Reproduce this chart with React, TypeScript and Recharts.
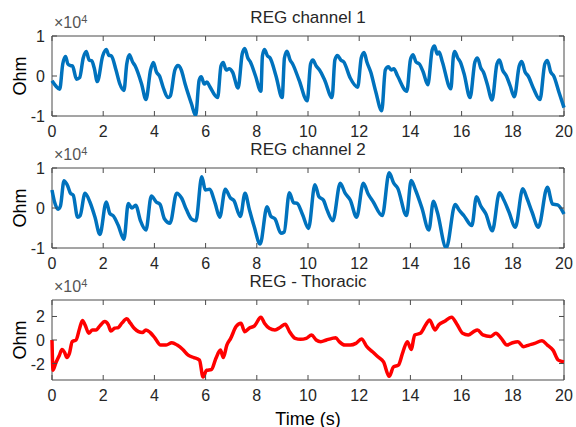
import React from 'react';
import { LineChart, Line, XAxis, YAxis, ReferenceArea } from 'recharts';

// values are in units of 10^4 Ohm
const ch1Time = [
  0.0, 0.15, 0.3, 0.42, 0.53, 0.62, 0.72, 0.8, 0.96, 1.08, 1.22, 1.34, 1.45, 1.55, 1.65, 1.77,
  1.98, 2.12, 2.22, 2.32, 2.5, 2.65, 2.81, 2.92, 3.02, 3.15, 3.25, 3.5, 3.67, 3.85, 3.96, 4.08,
  4.2, 4.35, 4.53, 4.62, 4.8, 4.92, 5.05, 5.2, 5.45, 5.61, 5.75, 5.83, 5.95, 6.05, 6.15, 6.47,
  6.6, 6.69, 6.8, 6.92, 7.05, 7.27, 7.43, 7.53, 7.65, 7.75, 7.95, 8.16, 8.22, 8.3, 8.42, 8.52,
  8.75, 8.99, 9.08, 9.18, 9.3, 9.4, 9.65, 9.97, 10.1, 10.19, 10.32, 10.45, 10.65, 10.94, 11.05,
  11.15, 11.28, 11.4, 11.65, 11.94, 12.08, 12.19, 12.3, 12.45, 12.65, 12.88, 13.02, 13.14, 13.25,
  13.35, 13.5, 13.86, 14.0, 14.1, 14.22, 14.35, 14.5, 14.68, 14.85, 14.94, 15.05, 15.12, 15.25,
  15.58, 15.68, 15.73, 15.85, 15.95, 16.1, 16.33, 16.52, 16.62, 16.75, 16.85, 17.0, 17.19, 17.38,
  17.48, 17.6, 17.75, 17.9, 18.06, 18.25, 18.35, 18.48, 18.6, 18.8, 19.06, 19.25, 19.35, 19.48,
  19.6, 19.8, 20.0,
];
const ch1Value = [
  -0.12, -0.25, -0.33, 0.3, 0.49, 0.3, 0.26, 0.25, -0.08, -0.04, 0.45, 0.61, 0.4, 0.38, 0.2, -0.14,
  0.5, 0.66, 0.52, 0.5, 0.15, -0.2, -0.36, 0.3, 0.53, 0.35, 0.25, -0.2, -0.59, 0.15, 0.34, 0.1,
  0.0, -0.3, -0.54, -0.5, 0.15, 0.26, 0.15, -0.2, -0.7, -0.99, -0.1, -0.02, -0.2, -0.15, -0.25, -0.54,
  0.25, 0.34, 0.15, 0.18, 0.1, -0.3, 0.55, 0.69, 0.45, 0.35, 0.0, -0.38, 0.5, 0.66, 0.5, 0.45,
  0.0, -0.54, 0.45, 0.62, 0.4, 0.3, -0.1, -0.62, 0.3, 0.4, 0.25, 0.15, -0.1, -0.54, 0.4,
  0.51, 0.4, 0.35, -0.05, -0.28, 0.45, 0.59, 0.35, 0.1, -0.4, -0.87, 0.15, 0.23, 0.15,
  0.18, 0.0, -0.38, 0.4, 0.53, 0.35, 0.3, 0.1, -0.22, 0.65, 0.75, 0.55, 0.6, 0.35,
  -0.32, 0.5, 0.61, 0.45, 0.35, 0.05, -0.54, 0.35, 0.45, 0.2, 0.1, -0.2, -0.6, 0.3,
  0.4, 0.15, 0.0, -0.25, -0.52, 0.25, 0.36, 0.1, 0.0, -0.3, -0.59, 0.3, 0.39, 0.1,
  0.0, -0.4, -0.79,
];

const ch2Time = [
  0.0, 0.1, 0.24, 0.33, 0.47, 0.62, 0.72, 0.83, 1.0, 1.1, 1.29, 1.48, 1.68, 1.87, 2.12, 2.26,
  2.4, 2.59, 2.81, 2.98, 3.12, 3.27, 3.45, 3.67, 3.88, 4.07, 4.22, 4.39, 4.61, 4.87, 5.06, 5.25,
  5.45, 5.62, 5.85, 5.99, 6.15, 6.37, 6.55, 6.77, 6.97, 7.1, 7.36, 7.54, 7.71, 7.9, 8.13, 8.4,
  8.55, 8.71, 8.94, 9.07, 9.27, 9.44, 9.57, 9.79, 10.02, 10.27, 10.43, 10.6, 10.74, 10.97, 11.26,
  11.45, 11.65, 11.9, 12.16, 12.35, 12.55, 12.9, 13.17, 13.35, 13.5, 13.85, 14.03, 14.2, 14.45,
  14.72, 14.9, 15.05, 15.4, 15.75, 15.9, 16.1, 16.4, 16.58, 16.75, 16.95, 17.2, 17.48, 17.65,
  17.85, 18.1, 18.39, 18.55, 18.75, 19.0, 19.35, 19.55, 19.75, 20.0,
];
const ch2Value = [
  0.45, 0.15, -0.03, 0.05, 0.68, 0.54, 0.37, 0.32, -0.23, -0.19, 0.37, 0.15, -0.23, -0.66, 0.15, -0.14,
  -0.2, -0.44, -0.78, 0.11, 0.0, 0.07, -0.31, -0.55, 0.3, 0.15, 0.09, -0.27, -0.38, 0.37, 0.25, -0.04,
  -0.28, -0.32, 0.78, 0.45, 0.47, 0.12, -0.23, 0.47, 0.25, 0.19, -0.21, 0.37, -0.04, -0.47, -0.9, 0.03,
  -0.21, -0.27, -0.63, -0.6, 0.38, 0.13, 0.12, -0.17, -0.51, 0.58, 0.28, 0.2, -0.04, -0.32, 0.62,
  0.37, 0.2, -0.23, 0.62, 0.35, 0.15, -0.19, 0.88, 0.62, 0.5, -0.19, 0.69, 0.45, 0.0,
  -0.55, 0.17, -0.1, -1.0, 0.09, -0.05, -0.2, -0.44, 0.28, 0.05, -0.15, -0.57, 0.38, 0.2,
  -0.1, -0.48, 0.48, 0.25, -0.1, -0.48, 0.52, 0.1, 0.08, -0.15,
];

const ch3Time = [
  0.0, 0.04, 0.14, 0.29, 0.39, 0.5, 0.58, 0.68, 0.79, 0.94, 1.08, 1.19, 1.29, 1.44, 1.58, 1.73,
  1.87, 2.06, 2.2, 2.3, 2.45, 2.59, 2.73, 2.92, 3.06, 3.21, 3.38, 3.53, 3.67, 3.84, 4.03, 4.24,
  4.46, 4.68, 4.89, 5.11, 5.32, 5.54, 5.76, 5.9, 6.04, 6.23, 6.4, 6.58, 6.69, 6.83, 6.98, 7.19,
  7.38, 7.53, 7.7, 7.91, 8.16, 8.3, 8.49, 8.71, 8.92, 9.11, 9.28, 9.5, 9.71, 9.93, 10.14, 10.32,
  10.5, 10.72, 10.94, 11.08, 11.22, 11.44, 11.65, 11.87, 12.09, 12.3, 12.52, 12.73, 12.95, 13.17,
  13.34, 13.53, 13.71, 13.88, 14.03, 14.17, 14.39, 14.6, 14.75, 14.96, 15.11, 15.32, 15.61, 15.83,
  16.04, 16.26, 16.47, 16.62, 16.83, 17.12, 17.34, 17.55, 17.77, 17.99, 18.2, 18.42, 18.63, 18.85,
  19.14, 19.35, 19.57, 19.78, 20.0,
];
const ch3Value = [
  0.0, -2.57, -2.0, -1.29, -0.8, -1.09, -1.49, -1.14, -0.14, 0.0, 1.0, 1.66, 1.29, 0.57, 0.86, 0.86,
  1.2, 1.57, 1.29, 0.77, 1.0, 1.06, 1.43, 1.8, 1.43, 1.0, 0.71, 0.63, 0.86, 0.63, 0.14, -0.43,
  -0.43, -0.23, -0.43, -0.8, -1.29, -1.49, -1.71, -3.14, -2.57, -2.51, -1.57, -0.86, -1.49, -0.43, 0.14, 1.14,
  1.43, 0.71, 1.0, 1.2, 1.94, 1.43, 1.0, 0.86, 1.09, 1.34, 0.71, 0.14, 0.06, 0.14, 0.43, 0.0,
  -0.14, 0.0, 0.14, 0.2, -0.14, -0.43, -0.43, -0.29, 0.09, -0.57, -1.0, -1.43, -1.86, -3.09,
  -2.29, -2.14, -1.0, -0.14, -0.8, 0.43, 0.57, 1.29, 1.71, 0.86, 1.29, 1.57, 1.94, 1.29,
  0.57, 0.43, 0.71, 0.86, 0.43, 0.29, 0.57, 0.14, -0.43, -0.23, -0.14, -0.57, -0.43, -0.29,
  -0.06, -0.43, -0.86, -1.71, -1.86,
];

const xTicks = [0, 2, 4, 6, 8, 10, 12, 14, 16, 18, 20];
const regTicks = [-1, 0, 1];
const thorTicks = [-2, 0, 2];

const toRows = (t: number[], v: number[]) => t.map((time, i) => ({ t: time, v: v[i] }));

const FONT = '"Liberation Sans", Arial, Helvetica, sans-serif';
const TEXT = '#262626';
const BOX = '#4a4a4a';

const W = 576;
const H = 144;
const TOP = 36;
const LEFT = 52;
const RIGHT = 564;
const BOTTOM = 116;

const XTick = (props: any) => {
  const { x, payload } = props;
  return (
    <g>
      <line x1={x} x2={x} y1={BOTTOM} y2={BOTTOM - 5} stroke={BOX} />
      <line x1={x} x2={x} y1={TOP} y2={TOP + 5} stroke={BOX} />
      <text x={x} y={BOTTOM + 21} textAnchor="middle" fontSize={16} fontFamily={FONT} fill={TEXT}>
        {payload.value}
      </text>
    </g>
  );
};

const YTick = (props: any) => {
  const { y, payload } = props;
  return (
    <g>
      <line x1={LEFT} x2={LEFT + 5} y1={y} y2={y} stroke={BOX} />
      <line x1={RIGHT} x2={RIGHT - 5} y1={y} y2={y} stroke={BOX} />
      <text x={45} y={y + 6} textAnchor="end" fontSize={16} fontFamily={FONT} fill={TEXT}>
        {payload.value < 0 ? '-' + Math.abs(payload.value) : payload.value}
      </text>
    </g>
  );
};

interface PanelProps {
  top: number;
  title: string;
  rows: { t: number; v: number }[];
  domain: [number, number];
  ticks: number[];
  color: string;
}

function Panel({ top, title, rows, domain, ticks, color }: PanelProps) {
  const mid = top + (TOP + BOTTOM) / 2;
  return (
    <>
      <div style={{ position: 'absolute', left: 0, top, width: W, height: H }}>
        <LineChart width={W} height={H} data={rows} margin={{ top: TOP, right: W - RIGHT, left: 0, bottom: 0 }}>
          <XAxis
            dataKey="t"
            type="number"
            domain={[0, 20]}
            ticks={xTicks}
            height={H - BOTTOM}
            axisLine={false}
            tickLine={false}
            tick={XTick}
            interval={0}
          />
          <YAxis
            type="number"
            domain={domain}
            ticks={ticks}
            width={LEFT}
            axisLine={false}
            tickLine={false}
            tick={YTick}
            interval={0}
            allowDataOverflow
          />
          <ReferenceArea x1={0} x2={20} y1={domain[0]} y2={domain[1]} fill="none" stroke={BOX} strokeWidth={1} />
          <Line
            type="monotone"
            dataKey="v"
            stroke={color}
            strokeWidth={3.5}
            dot={false}
            isAnimationActive={false}
          />
        </LineChart>
      </div>
      <div
        style={{
          position: 'absolute', left: (LEFT + RIGHT) / 2, top: top + TOP - 18, transform: 'translate(-50%, -50%)',
          fontFamily: FONT, fontSize: 17, color: TEXT, whiteSpace: 'nowrap',
        }}
      >
        {title}
      </div>
      <div
        style={{
          position: 'absolute', left: LEFT + 2, top: top + TOP - 22, fontFamily: FONT, fontSize: 16,
          color: '#555', whiteSpace: 'nowrap', lineHeight: '18px',
        }}
      >
        ×10<sup style={{ fontSize: 11, verticalAlign: 'top', position: 'relative', top: -4 }}>4</sup>
      </div>
      <div
        style={{
          position: 'absolute', left: 20, top: mid, transform: 'translate(-50%, -50%) rotate(-90deg)',
          fontFamily: FONT, fontSize: 18, color: '#000', whiteSpace: 'nowrap',
        }}
      >
        Ohm
      </div>
    </>
  );
}

export default function App() {
  return (
    <div style={{ position: 'absolute', left: 0, top: 0, width: W, height: 427, background: '#fff' }}>
      <Panel top={0} title="REG channel 1" rows={toRows(ch1Time, ch1Value)} domain={[-1, 1]} ticks={regTicks} color="#0072BD" />
      <Panel top={132} title="REG channel 2" rows={toRows(ch2Time, ch2Value)} domain={[-1, 1]} ticks={regTicks} color="#0072BD" />
      <Panel top={264} title="REG - Thoracic" rows={toRows(ch3Time, ch3Value)} domain={[-3.4, 3.4]} ticks={thorTicks} color="#FF0000" />
      <div
        style={{
          position: 'absolute', left: (LEFT + RIGHT) / 2, top: 419, transform: 'translate(-50%, -50%)',
          fontFamily: FONT, fontSize: 18, color: '#000', whiteSpace: 'nowrap',
        }}
      >
        Time (s)
      </div>
    </div>
  );
}
